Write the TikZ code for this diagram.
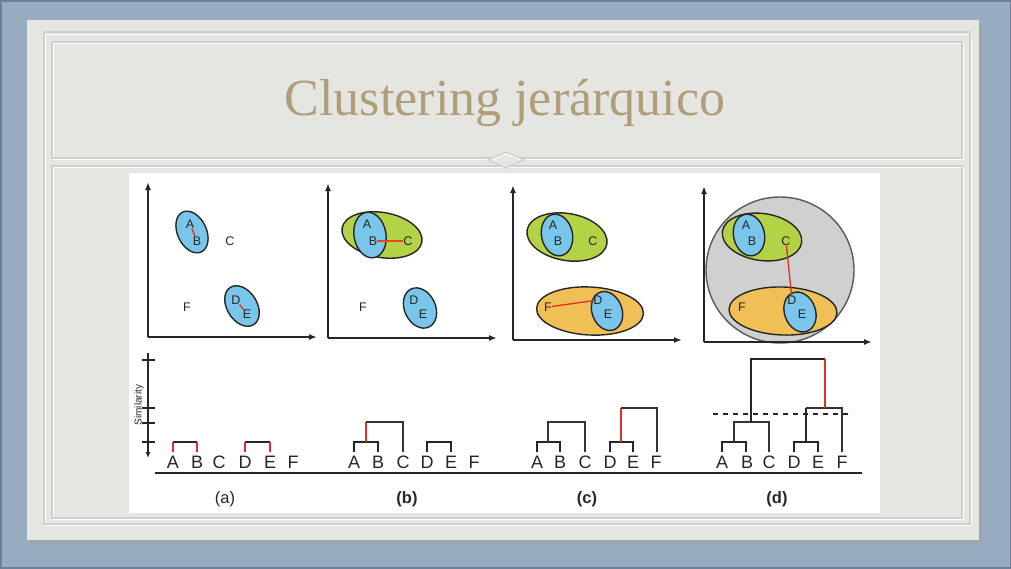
\documentclass[tikz,border=0pt]{standalone}
\usepackage{fontspec}
\setmainfont{Liberation Serif}
\newfontfamily\arial{Liberation Sans}
\usetikzlibrary{shapes.geometric,arrows.meta}
\definecolor{outerblue}{RGB}{152,172,192}
\definecolor{outerdark}{RGB}{110,128,148}
\definecolor{paper}{RGB}{229,229,226}
\definecolor{frameline}{RGB}{207,207,203}
\definecolor{titletan}{RGB}{176,158,122}
\definecolor{cblue}{RGB}{122,198,235}
\definecolor{cgreen}{RGB}{180,210,70}
\definecolor{corange}{RGB}{240,192,86}
\definecolor{cgray}{RGB}{208,208,208}
\definecolor{cred}{RGB}{225,45,35}
\tikzset{
  clu/.style={ellipse, draw=black!85, line width=1.4pt, inner sep=0pt},
  pt/.style={font=\arial\fontsize{12.5}{13}\selectfont, inner sep=0pt, text=black!85},
  lbl/.style={font=\arial\fontsize{18}{18}\selectfont, inner sep=0pt, text=black!85, anchor=base},
  captxt/.style={font=\arial\fontsize{16.5}{17}\selectfont, inner sep=0pt, text=black!85, anchor=base},
  axisarrow/.style={-{Latex[length=8pt,width=6pt]}, line width=1.7pt, black!85},
  thinl/.style={line width=1.3pt, black!80},
  thickl/.style={line width=2.2pt, black!85},
  redl/.style={cred, line width=1.3pt},
  frm/.style={frameline, line width=1.2pt},
  hl/.style={white, line width=0.8pt}
}
\begin{document}
\begin{tikzpicture}[x=1pt,y=-1pt]
\useasboundingbox (0,0) rectangle (1011,568);
% outer background
\fill[outerblue] (0,0) rectangle (1011,568);
\draw[outerdark, line width=3pt] (0,0) rectangle (1011,568);
% paper with shadow
\fill[outerdark!70] (30,24) rectangle (983,545);
\fill[paper] (27,20) rectangle (979,540);
% frames
\draw[hl] (45,34) rectangle (971,525);
\draw[frm] (44,32) rectangle (970,524);
\draw[hl] (53,43) rectangle (963,159);
\draw[frm] (52,42) rectangle (962,158);
\draw[hl] (53,167) rectangle (963,519);
\draw[frm] (52,166) rectangle (962,518);
\fill[paper] (488,160) -- (506,152) -- (524,160) -- (506,168) -- cycle;
\draw[frm] (488,160) -- (506,152) -- (524,160) -- (506,168) -- cycle;
\draw[hl] (491,160) -- (506,154) -- (521,160);
% title
\node[font=\fontsize{52}{52}\selectfont, text=titletan, anchor=base, inner sep=0pt] (title) at (505,115) {Clustering jerárquico};
% white figure area
\fill[white] (129,173) rectangle (880,513);

% ---------- panel (a) ----------
\node[clu, fill=cblue, minimum width=29pt, minimum height=44pt, rotate=25] (aAB) at (192,232) {};
\node[clu, fill=cblue, minimum width=30pt, minimum height=44pt, rotate=32] (aDE) at (242,306) {};
\node[pt] (aA) at (190,224) {A};
\node[pt] (aB) at (197,241) {B};
\node[pt] (aC) at (230,241) {C};
\node[pt] (aF) at (187,307) {F};
\node[pt] (aD) at (236,300) {D};
\node[pt] (aE) at (247,314) {E};
\draw[redl] (aA) -- (aB);
\draw[redl] (aD) -- (aE);
\coordinate (aO) at (148,337);
\coordinate (aY) at (148,182);
\coordinate (aX) at (317,337);
\draw[axisarrow] (aO) -- (aY);
\draw[axisarrow] (aO) -- (aX);

% ---------- panel (b) ----------
\node[clu, fill=cgreen, minimum width=81pt, minimum height=45pt, rotate=-10] (bABC) at (382,235) {};
\node[clu, fill=cblue, minimum width=32pt, minimum height=46pt, rotate=10] (bAB) at (370,235) {};
\node[clu, fill=cblue, minimum width=31pt, minimum height=42pt, rotate=25] (bDE) at (420,308) {};
\node[pt] (bA) at (367,224) {A};
\node[pt] (bB) at (373,241) {B};
\node[pt] (bC) at (408,241) {C};
\node[pt] (bF) at (363,307) {F};
\node[pt] (bD) at (414,300) {D};
\node[pt] (bE) at (423,314) {E};
\draw[redl, cred!70!orange] (bB) -- (bC);
\coordinate (bO) at (328,338);
\coordinate (bY) at (328,183);
\coordinate (bX) at (497,338);
\draw[axisarrow] (bO) -- (bY);
\draw[axisarrow] (bO) -- (bX);

% ---------- panel (c) ----------
\node[clu, fill=cgreen, minimum width=81pt, minimum height=47pt, rotate=-10] (cABC) at (567,237) {};
\node[clu, fill=cblue, minimum width=31pt, minimum height=42pt, rotate=12] (cAB) at (557,235) {};
\node[clu, fill=corange, minimum width=107pt, minimum height=48pt, rotate=-3] (cDEF) at (590,311) {};
\node[clu, fill=cblue, minimum width=30pt, minimum height=40pt, rotate=20] (cDE) at (607,311) {};
\node[pt] (cA) at (553,225) {A};
\node[pt] (cB) at (558,241) {B};
\node[pt] (cC) at (593,241) {C};
\node[pt] (cF) at (548,307) {F};
\node[pt] (cD) at (598,300) {D};
\node[pt] (cE) at (608,314) {E};
\draw[redl] (cF) -- (cD);
\coordinate (cO) at (513,340);
\coordinate (cY) at (513,185);
\coordinate (cX) at (682,340);
\draw[axisarrow] (cO) -- (cY);
\draw[axisarrow] (cO) -- (cX);

% ---------- panel (d) ----------
\node[clu, fill=cgray, draw=black!65, minimum width=148pt, minimum height=146pt] (dALL) at (780,270) {};
\node[clu, fill=cgreen, minimum width=80pt, minimum height=47pt, rotate=-8] (dABC) at (762,237) {};
\node[clu, fill=cblue, minimum width=31pt, minimum height=42pt, rotate=12] (dAB) at (749,235) {};
\node[clu, fill=corange, minimum width=108pt, minimum height=48pt, rotate=-2] (dDEF) at (783,311) {};
\node[clu, fill=cblue, minimum width=31pt, minimum height=41pt, rotate=20] (dDE) at (800,312) {};
\node[pt] (dA) at (746,225) {A};
\node[pt] (dB) at (752,241) {B};
\node[pt] (dC) at (786,241) {C};
\node[pt] (dF) at (742,307) {F};
\node[pt] (dD) at (792,300) {D};
\node[pt] (dE) at (802,314) {E};
\draw[redl] (dC) -- (dD);
\coordinate (dO) at (704,342);
\coordinate (dY) at (704,186);
\coordinate (dX) at (872,342);
\draw[axisarrow] (dO) -- (dY);
\draw[axisarrow] (dO) -- (dX);

% ---------- similarity axis ----------
\coordinate (sT) at (148,353);
\coordinate (sB) at (148,458);
\draw[-{Latex[length=6pt,width=5pt]}, line width=1.4pt, black!85] (sT) -- (sB);
\foreach \yy in {360,408,423,442} \draw[line width=1.4pt, black!85] (142,\yy) -- (155,\yy);
\node[rotate=90, font=\arial\fontsize{10}{10}\selectfont, inner sep=0pt, text=black!85] (sim) at (139,405) {Similarity};

% ---------- dendrogram labels ----------
\foreach \p/\xa/\xb/\xc/\xd/\xe/\xf in {a/173/197/219/245/270/293, b/354/378/403/427/451/474, c/537/560/585/610/633/656, d/722/747/769/794/818/842}{
  \node[lbl] (\p LA) at (\xa,468) {A};
  \node[lbl] (\p LB) at (\xb,468) {B};
  \node[lbl] (\p LC) at (\xc,468) {C};
  \node[lbl] (\p LD) at (\xd,468) {D};
  \node[lbl] (\p LE) at (\xe,468) {E};
  \node[lbl] (\p LF) at (\xf,468) {F};
}
% baseline
\draw[line width=1.8pt, black!85] (155,473) -- (862,473);
% captions
\node[captxt] (capa) at (225,503) {(a)};
\node[captxt, font=\arial\bfseries\fontsize{16.5}{17}\selectfont] (capb) at (407,503) {(b)};
\node[captxt, font=\arial\bfseries\fontsize{16.5}{17}\selectfont] (capc) at (587,503) {(c)};
\node[captxt, font=\arial\bfseries\fontsize{16.5}{17}\selectfont] (capd) at (777,503) {(d)};

% (a) dendrogram
\draw[thickl] (173,442) -- (197,442);
\draw[redl] (173,442) -- (173,452);
\draw[redl] (197,442) -- (197,452);
\draw[thickl] (245,442) -- (270,442);
\draw[redl] (245,442) -- (245,452);
\draw[redl] (270,442) -- (270,452);

% (b) dendrogram
\draw[thickl] (354,452) -- (354,442) -- (378,442) -- (378,452);
\draw[thickl] (427,452) -- (427,442) -- (451,442) -- (451,452);
\draw[redl] (366,442) -- (366,422);
\draw[thinl] (366,422) -- (403,422) -- (403,452);

% (c) dendrogram
\draw[thickl] (537,452) -- (537,442) -- (560,442) -- (560,452);
\draw[thinl] (548,442) -- (548,422) -- (585,422) -- (585,452);
\draw[thickl] (610,452) -- (610,442) -- (633,442) -- (633,452);
\draw[redl] (621,442) -- (621,408);
\draw[thinl] (621,408) -- (657,408) -- (657,452);

% (d) dendrogram
\draw[thickl] (722,452) -- (722,442) -- (746,442) -- (746,452);
\draw[thinl] (734,442) -- (734,422) -- (769,422) -- (769,452);
\draw[thickl] (794,452) -- (794,442) -- (818,442) -- (818,452);
\draw[thickl] (806,442) -- (806,408);
\draw[thinl] (806,408) -- (842,408) -- (842,452);
\draw[thickl] (751,422) -- (751,359) -- (825,359);
\draw[redl] (825,359) -- (825,408);
\draw[dashed, dash pattern=on 5pt off 5pt, line width=1.3pt, black!85] (713,414) -- (853,414);
\end{tikzpicture}
\end{document}
